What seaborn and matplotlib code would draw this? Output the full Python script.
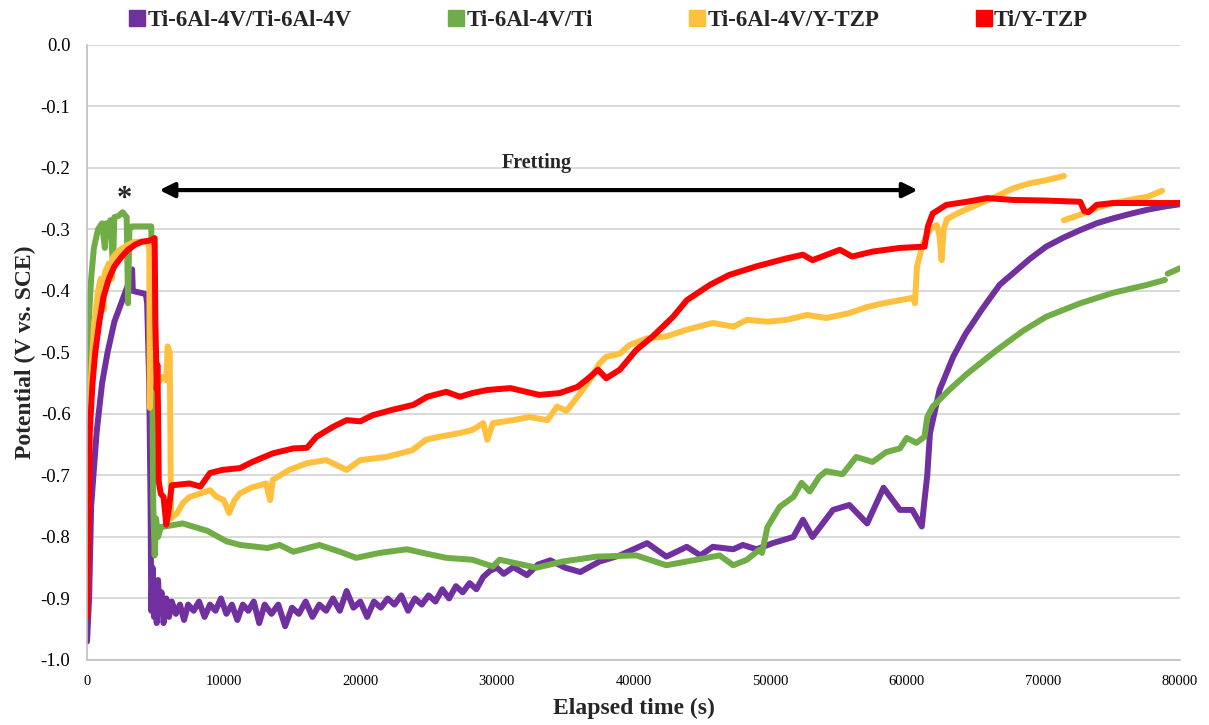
import numpy as np
import pandas as pd
import matplotlib
matplotlib.use("Agg")
import matplotlib.pyplot as plt
from matplotlib.lines import Line2D
import seaborn as sns

# ---------------------------------------------------------------------------
# Open-circuit potential (V vs. SCE) against elapsed time (s) for four couples
# ---------------------------------------------------------------------------
series_names = ["Ti-6Al-4V/Ti-6Al-4V", "Ti-6Al-4V/Ti", "Ti-6Al-4V/Y-TZP", "Ti/Y-TZP"]
series_colors = ["#7030A0", "#70AD47", "#FFC03F", "#FF0000"]

ti64_ti64_time = [
    0, 150, 300, 700, 1100, 1500, 2000, 2500, 3000, 3300, 3350, 4300, 4400, 4550,
    4650, 4700, 4800, 4900, 5000, 5100, 5200, 5300, 5450, 5600, 5800, 6000, 6200,
    6500, 6800, 7100, 7400, 7800, 8200, 8600, 9000, 9400, 9800, 10200, 10600,
    11000, 11400, 11800, 12200, 12600, 13000, 13500, 14000, 14500, 15000, 15500,
    16000, 16500, 17000, 17500, 18000, 18500, 19000, 19500, 20000, 20500, 21000,
    21500, 22000, 22500, 23000, 23500, 24000, 24500, 25000, 25500, 26000, 26500,
    27000, 27500, 28000, 28500, 29000, 29500, 30000, 30500, 31200, 32200, 33000,
    33900, 35000, 36100, 37500, 39000, 40000, 41000, 42400, 43900, 44900, 45800,
    47300, 48000, 49000, 50200, 51700, 52400, 53100, 54600, 55800, 57100, 58300,
    59500, 60400, 61100, 61300, 61500, 61700, 62400, 63400, 64300, 65500, 66800,
    67800, 69000, 70200, 71500, 72700, 73900, 75100, 76300, 77600, 78800, 80000,
]
ti64_ti64_potential = [
    -0.97, -0.90, -0.75, -0.63, -0.55, -0.50, -0.45, -0.42, -0.39, -0.365, -0.40,
    -0.405, -0.42, -0.55, -0.75, -0.92, -0.85, -0.93, -0.88, -0.94, -0.87, -0.92,
    -0.89, -0.94, -0.90, -0.93, -0.905, -0.925, -0.91, -0.935, -0.91, -0.92,
    -0.905, -0.93, -0.91, -0.92, -0.90, -0.925, -0.91, -0.935, -0.91, -0.92,
    -0.905, -0.94, -0.91, -0.925, -0.91, -0.945, -0.915, -0.925, -0.905, -0.93,
    -0.91, -0.92, -0.90, -0.92, -0.888, -0.915, -0.905, -0.93, -0.905, -0.915,
    -0.90, -0.91, -0.895, -0.92, -0.90, -0.91, -0.895, -0.905, -0.885, -0.90,
    -0.88, -0.89, -0.875, -0.885, -0.865, -0.855, -0.85, -0.86, -0.849, -0.862,
    -0.845, -0.838, -0.85, -0.857, -0.84, -0.83, -0.82, -0.81, -0.832, -0.816,
    -0.83, -0.816, -0.82, -0.813, -0.82, -0.81, -0.80, -0.772, -0.80, -0.756,
    -0.748, -0.778, -0.72, -0.756, -0.756, -0.783, -0.74, -0.70, -0.631, -0.561,
    -0.507, -0.47, -0.43, -0.39, -0.371, -0.348, -0.328, -0.313, -0.301, -0.29,
    -0.282, -0.275, -0.268, -0.263, -0.259,
]

ti64_ti_time = [
    0, 100, 300, 500, 800, 1100, 1300, 1400, 1600, 1700, 1900, 2000, 2300, 2600,
    2900, 3000, 3100, 3300, 4700, 4750, 4800, 4850, 4950, 5050, 5200, 5400, 7000,
    8800, 10200, 11200, 13200, 14100, 15100, 17000, 18500, 19700, 21400, 23400,
    24600, 26300, 28200, 29700, 30200, 32900, 34800, 37300, 40200, 42400, 44600,
    46300, 47300, 48300, 49200, 49400, 49800, 50700, 51700, 52300, 52900, 53600,
    54100, 55300, 56300, 57500, 58500, 59500, 60000, 60700, 61300, 61500, 61900,
    63100, 64400, 66600, 68500, 70200, 72700, 75100, 77600, 78900,
    np.nan, 79100, 80000,
]
ti64_ti_potential = [
    -0.60, -0.46, -0.38, -0.33, -0.30, -0.29, -0.33, -0.29, -0.31, -0.285, -0.36,
    -0.28, -0.278, -0.272, -0.28, -0.42, -0.30, -0.295, -0.295, -0.40, -0.62,
    -0.75, -0.83, -0.77, -0.80, -0.784, -0.778, -0.79, -0.807, -0.813, -0.818,
    -0.813, -0.824, -0.813, -0.824, -0.834, -0.826, -0.82, -0.826, -0.834,
    -0.837, -0.848, -0.837, -0.85, -0.84, -0.832, -0.83, -0.846, -0.837, -0.83,
    -0.846, -0.837, -0.821, -0.826, -0.784, -0.751, -0.735, -0.712, -0.726,
    -0.702, -0.693, -0.698, -0.67, -0.678, -0.662, -0.656, -0.639, -0.647,
    -0.637, -0.605, -0.588, -0.561, -0.535, -0.496, -0.465, -0.442, -0.42,
    -0.403, -0.39, -0.382,
    np.nan, -0.372, -0.363,
]

ti64_ytzp_time = [
    0, 100, 200, 500, 800, 1000, 1200, 1300, 1600, 1800, 1900, 2400, 3000, 3500,
    4400, 4550, 4600, 4700, 4800, 5000, 5200, 5500, 5800, 5900, 6050, 6150, 6600,
    7000, 7500, 8200, 9000, 9500, 10000, 10400, 10800, 11200, 12000, 13100, 13400,
    13600, 14800, 16100, 17500, 19000, 20000, 21900, 23800, 24800, 25800, 27300,
    28200, 29000, 29300, 29700, 31200, 32400, 33700, 34400, 35100, 35900, 36800,
    37500, 38000, 39000, 39700, 41000, 42400, 43900, 45800, 47300, 48300, 49800,
    51200, 52700, 54100, 55800, 57100, 58300, 59500, 60450, 60600, 60750, 61200,
    61700, 62200, 62400, 62550, 62700, 62950, 63700, 64800, 66300, 67800, 69000,
    70200, 71500,
    np.nan, 71500, 72700, 73900, 75100, 76300, 77600, 78700,
]
ti64_ytzp_potential = [
    -0.90, -0.70, -0.58, -0.46, -0.40, -0.38, -0.43, -0.37, -0.355, -0.38,
    -0.345, -0.333, -0.325, -0.32, -0.32, -0.33, -0.59, -0.50, -0.55, -0.53,
    -0.55, -0.54, -0.545, -0.49, -0.50, -0.77, -0.761, -0.745, -0.735, -0.73,
    -0.724, -0.735, -0.74, -0.761, -0.74, -0.729, -0.72, -0.713, -0.74, -0.707,
    -0.691, -0.68, -0.675, -0.691, -0.675, -0.67, -0.659, -0.642, -0.637,
    -0.631, -0.626, -0.615, -0.642, -0.615, -0.61, -0.605, -0.61, -0.588,
    -0.595, -0.572, -0.545, -0.518, -0.507, -0.502, -0.488, -0.477, -0.474,
    -0.463, -0.452, -0.458, -0.447, -0.45, -0.447, -0.439, -0.444, -0.436,
    -0.426, -0.42, -0.415, -0.411, -0.42, -0.36, -0.322, -0.30, -0.293, -0.31,
    -0.35, -0.30, -0.283, -0.274, -0.263, -0.249, -0.233, -0.225, -0.22, -0.213,
    np.nan, -0.285, -0.276, -0.265, -0.257, -0.252, -0.247, -0.237,
]

ti_ytzp_time = [
    0, 100, 200, 400, 600, 900, 1200, 1600, 2000, 2500, 3000, 3500, 4000, 4600,
    4950, 5000, 5050, 5100, 5150, 5200, 5250, 5400, 5600, 5800, 5950, 6200, 7500,
    8300, 9000, 9900, 11200, 12100, 13600, 15100, 16100, 16800, 18000, 19000,
    20000, 20900, 22400, 23900, 24900, 26300, 27300, 28200, 29300, 31000, 33100,
    34600, 35900, 36800, 37400, 38000, 39000, 40200, 41400, 42900, 43900, 45600,
    47000, 49000, 51200, 52400, 53100, 55100, 56000, 57500, 59500, 61300, 61550,
    61900, 62900, 64400, 65900, 67800, 70200, 72700, 73000, 73300, 73900, 75100,
    77600, 80000,
]
ti_ytzp_potential = [
    -0.93, -0.80, -0.63, -0.55, -0.50, -0.45, -0.41, -0.38, -0.36, -0.345,
    -0.333, -0.325, -0.32, -0.318, -0.314, -0.45, -0.50, -0.56, -0.52, -0.60,
    -0.71, -0.73, -0.735, -0.78, -0.76, -0.716, -0.713, -0.718, -0.696, -0.691,
    -0.688, -0.678, -0.664, -0.656, -0.655, -0.637, -0.621, -0.61, -0.612,
    -0.602, -0.593, -0.585, -0.572, -0.564, -0.572, -0.566, -0.561, -0.558,
    -0.569, -0.566, -0.556, -0.54, -0.528, -0.542, -0.528, -0.496, -0.474,
    -0.442, -0.415, -0.39, -0.374, -0.36, -0.347, -0.341, -0.35, -0.333,
    -0.344, -0.336, -0.33, -0.328, -0.295, -0.274, -0.26, -0.255, -0.249,
    -0.252, -0.253, -0.255, -0.27, -0.272, -0.26, -0.257, -0.257, -0.257,
]

x_ticks = [0, 10000, 20000, 30000, 40000, 50000, 60000, 70000, 80000]
x_tick_labels = ["0", "10000", "20000", "30000", "40000", "50000", "60000", "70000", "80000"]
y_ticks = [0.0, -0.1, -0.2, -0.3, -0.4, -0.5, -0.6, -0.7, -0.8, -0.9, -1.0]
y_tick_labels = ["0.0", "-0.1", "-0.2", "-0.3", "-0.4", "-0.5", "-0.6", "-0.7", "-0.8", "-0.9", "-1.0"]

# Fretting window
fretting_start, fretting_end = 5300, 60800

# ---------------------------------------------------------------------------
# Long-form table; NaN entries split a record into separate drawn pieces
# ---------------------------------------------------------------------------
frames = []
for name, t, v in zip(
    series_names,
    [ti64_ti64_time, ti64_ti_time, ti64_ytzp_time, ti_ytzp_time],
    [ti64_ti64_potential, ti64_ti_potential, ti64_ytzp_potential, ti_ytzp_potential],
):
    t = np.asarray(t, dtype=float)
    v = np.asarray(v, dtype=float)
    piece = np.cumsum(np.isnan(t))
    df = pd.DataFrame({"time": t, "potential": v, "series": name,
                       "unit": [f"{name}-{p}" for p in piece]})
    frames.append(df.dropna())
data = pd.concat(frames, ignore_index=True)

sns.set_theme(style="white")
plt.rcParams["font.family"] = ["Liberation Serif", "DejaVu Serif"]
plt.rcParams["axes.unicode_minus"] = False

fig = plt.figure(figsize=(12.09, 7.25), dpi=100)
ax = fig.add_axes([0.072, 0.0897, 0.904, 0.8483])

palette = dict(zip(series_names, series_colors))
sns.lineplot(data=data, x="time", y="potential", hue="series", units="unit",
             estimator=None, sort=False, hue_order=series_names, palette=palette,
             linewidth=4.3, legend=False, ax=ax,
             solid_capstyle="round", solid_joinstyle="round")

ax.set_xlim(0, 80000)
ax.set_ylim(-1.0, 0.0)
ax.set_xticks(x_ticks)
ax.set_xticklabels(x_tick_labels, fontsize=10.5)
ax.set_yticks(y_ticks)
ax.set_yticklabels(y_tick_labels, fontsize=13.5)

ax.yaxis.grid(True, color="#D9D9D9", linewidth=1.4)
ax.xaxis.grid(False)
ax.set_axisbelow(True)
for side in ("top", "right"):
    ax.spines[side].set_visible(False)
for side in ("left", "bottom"):
    ax.spines[side].set_color("#BFBFBF")
    ax.spines[side].set_linewidth(1.2)
ax.tick_params(axis="x", direction="inout", length=14, width=1.1, color="#BFBFBF",
               pad=4, labelcolor="black")
ax.tick_params(axis="y", length=0, pad=12, labelcolor="black")

ax.set_xlabel("Elapsed time (s)", fontsize=17, fontweight="bold", labelpad=7)
ax.set_ylabel("Potential (V vs. SCE)", fontsize=17, fontweight="bold", labelpad=3)

# Fretting interval arrow with its caption, and the asterisk over the peak
ax.annotate("", xy=(fretting_start, -0.236), xytext=(fretting_end, -0.236),
            arrowprops=dict(arrowstyle="<|-|>", color="black", lw=3,
                            mutation_scale=22, shrinkA=0, shrinkB=0))
ax.text((fretting_start + fretting_end) / 2 - 100, -0.192, "Fretting",
        ha="center", va="center", fontsize=14.5, fontweight="bold")
ax.text(2700, -0.252, "*", ha="center", va="center", fontsize=22, fontweight="bold")

handles = [Line2D([], [], marker="s", linestyle="none", markersize=12,
                  markerfacecolor=c, markeredgecolor=c) for c in series_colors]
fig.legend(handles, series_names, loc="center", bbox_to_anchor=(0.504, 0.972),
           ncol=4, frameon=False, handletextpad=0.15, columnspacing=4.25,
           handlelength=0.6, prop={"size": 16.5, "weight": "bold"})

fig.savefig("out.png", dpi=100)
